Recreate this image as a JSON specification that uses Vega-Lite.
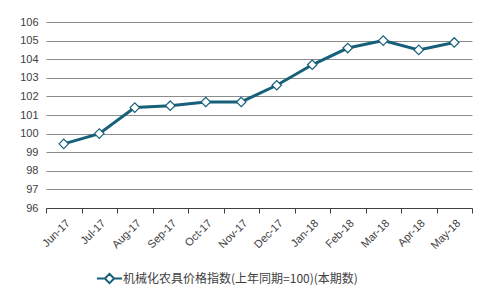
{
  "$schema": "https://vega.github.io/schema/vega-lite/v6.json",
  "width": 426,
  "height": 186,
  "autosize": {"type": "none"},
  "padding": {"left": 46, "top": 22, "right": 23, "bottom": 95},
  "background": "white",
  "config": {
    "view": {"stroke": null},
    "font": "Liberation Sans"
  },
  "data": {
    "values": [
      {"month": "Jun-17", "value": 99.45, "series": "机械化农具价格指数(上年同期=100)(本期数)"},
      {"month": "Jul-17", "value": 100.0, "series": "机械化农具价格指数(上年同期=100)(本期数)"},
      {"month": "Aug-17", "value": 101.4, "series": "机械化农具价格指数(上年同期=100)(本期数)"},
      {"month": "Sep-17", "value": 101.5, "series": "机械化农具价格指数(上年同期=100)(本期数)"},
      {"month": "Oct-17", "value": 101.7, "series": "机械化农具价格指数(上年同期=100)(本期数)"},
      {"month": "Nov-17", "value": 101.7, "series": "机械化农具价格指数(上年同期=100)(本期数)"},
      {"month": "Dec-17", "value": 102.6, "series": "机械化农具价格指数(上年同期=100)(本期数)"},
      {"month": "Jan-18", "value": 103.7, "series": "机械化农具价格指数(上年同期=100)(本期数)"},
      {"month": "Feb-18", "value": 104.6, "series": "机械化农具价格指数(上年同期=100)(本期数)"},
      {"month": "Mar-18", "value": 105.0, "series": "机械化农具价格指数(上年同期=100)(本期数)"},
      {"month": "Apr-18", "value": 104.5, "series": "机械化农具价格指数(上年同期=100)(本期数)"},
      {"month": "May-18", "value": 104.9, "series": "机械化农具价格指数(上年同期=100)(本期数)"}
    ]
  },
  "encoding": {
    "x": {
      "field": "month",
      "type": "ordinal",
      "sort": null,
      "title": null,
      "scale": {"paddingInner": 0, "paddingOuter": 0},
      "axis": {
        "labelAngle": -45,
        "labelAlign": "right",
        "labelBaseline": "top",
        "labelFontSize": 11,
        "labelColor": "#404040",
        "tickBand": "extent",
        "tickSize": 5,
        "tickColor": "#404040",
        "domainColor": "#404040",
        "labelPadding": 4,
        "grid": false
      }
    },
    "y": {
      "field": "value",
      "type": "quantitative",
      "title": null,
      "scale": {"domain": [96, 106], "zero": false, "nice": false},
      "axis": {
        "values": [96, 97, 98, 99, 100, 101, 102, 103, 104, 105, 106],
        "domain": false,
        "ticks": false,
        "labelFontSize": 11,
        "labelColor": "#404040",
        "labelPadding": 8,
        "gridColor": "#8c8c8c",
        "gridWidth": 1
      }
    }
  },
  "layer": [
    {
      "mark": {"type": "line", "strokeWidth": 3},
      "encoding": {
        "color": {
          "field": "series",
          "type": "nominal",
          "scale": {"range": ["#16607a"]},
          "legend": {
            "title": null,
            "orient": "none",
            "legendX": 54,
            "legendY": 247,
            "symbolType": "M-1.5,0L-0.55,0M0.55,0L1.5,0M-0.55,0L0,-0.55L0.55,0L0,0.55Z",
            "symbolSize": 280,
            "symbolStrokeWidth": 2,
            "labelFont": "Noto Sans CJK SC",
            "labelFontSize": 12,
            "labelColor": "#404040",
            "labelOffset": 4,
            "labelLimit": 400
          }
        }
      }
    },
    {
      "mark": {"type": "point", "shape": "diamond", "filled": true, "fill": "white", "stroke": "#16607a", "strokeWidth": 1.2, "size": 90, "opacity": 1}
    }
  ]
}
